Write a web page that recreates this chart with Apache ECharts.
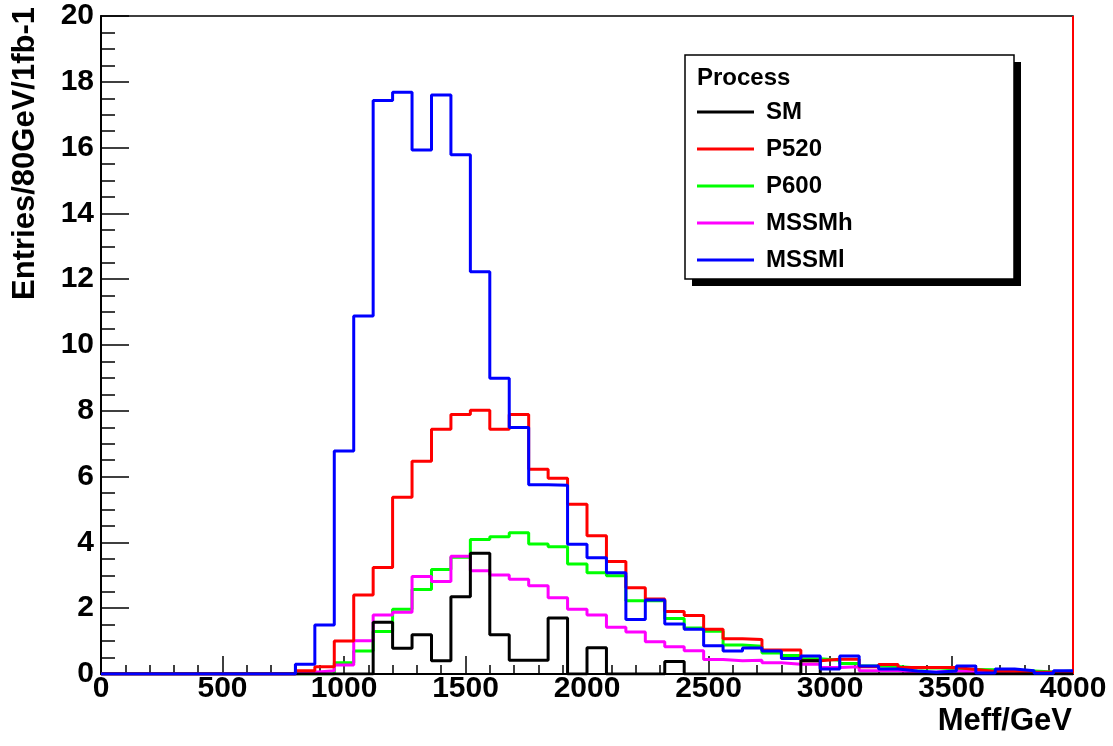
<!DOCTYPE html>
<html>
<head>
<meta charset="utf-8">
<script src="https://cdn.jsdelivr.net/npm/echarts@6/dist/echarts.min.js"></script>
<style>
html,body{margin:0;padding:0;background:#fff;}
#chart{width:1113px;height:746px;}
</style>
</head>
<body>
<div id="chart"></div>
<script>
// Histogram: 50 bins of 80 GeV from 0 to 4000
const BIN_WIDTH = 80;
const X_MIN = 0, X_MAX = 4000;
const xTickValues = [0, 500, 1000, 1500, 2000, 2500, 3000, 3500, 4000];
const yTickValues = [0, 2, 4, 6, 8, 10, 12, 14, 16, 18, 20];

const seriesNames = ["SM", "P520", "P600", "MSSMh", "MSSMl"];

const SM = [0,0,0,0,0,0,0,0,0,0, 0,0,0,0,1.57,0.78,1.19,0.40,2.35,3.67, 1.19,0.42,0.42,1.70,0,0.80,0,0,0,0.38, 0,0,0,0,0,0,0.40,0,0,0, 0,0,0,0,0,0,0,0,0,0];
const P520 = [0,0,0,0,0,0,0,0,0,0, 0.10,0.22,1.00,2.40,3.24,5.37,6.47,7.44,7.89,8.02, 7.44,7.89,6.22,5.95,5.16,4.20,3.42,2.62,2.28,1.90, 1.78,1.36,1.07,1.05,0.73,0.73,0.40,0.45,0.45,0.22, 0.29,0.20,0.20,0.20,0.14,0.08,0.08,0.05,0.05,0.05];
const P600 = [0,0,0,0,0,0,0,0,0,0, 0,0,0.34,0.70,1.29,1.97,2.57,3.18,3.55,4.09, 4.17,4.29,3.95,3.87,3.34,3.08,2.99,2.23,2.23,1.69, 1.40,1.30,0.88,0.84,0.64,0.56,0.46,0.42,0.32,0.24, 0.23,0.18,0.19,0.15,0.14,0.13,0.09,0.09,0.06,0.09];
const MSSMh = [0,0,0,0,0,0,0,0,0,0, 0.05,0.10,0.27,1.01,1.79,1.88,2.96,2.81,3.58,3.14, 3.01,2.88,2.68,2.32,1.97,1.79,1.42,1.28,0.98,0.83, 0.71,0.44,0.40,0.42,0.34,0.30,0.30,0.20,0.22,0.10, 0.10,0.05,0.06,0.09,0.06,0.03,0.09,0.03,0.02,0.02];
const MSSMl = [0,0,0,0,0,0,0,0,0,0, 0.30,1.49,6.78,10.88,17.43,17.68,15.93,17.60,15.78,12.23, 8.99,7.49,5.75,5.74,3.94,3.53,3.08,1.66,2.25,1.52, 1.36,0.86,0.70,0.79,0.70,0.47,0.55,0.15,0.55,0.24, 0.15,0.09,0.05,0.09,0.24,0.03,0.15,0.10,0.02,0.10];

const colors = {SM:"#000000", P520:"#ff0000", P600:"#00ff00", MSSMh:"#ff00ff", MSSMl:"#0000ff"};
const zOrder = {P600:2, MSSMh:3, P520:4, SM:5, MSSMl:6};
const values = {SM, P520, P600, MSSMh, MSSMl};

function toSteps(vals){
  const pts = vals.map((v,i)=>[X_MIN + i*BIN_WIDTH, v]);
  pts.push([X_MIN + vals.length*BIN_WIDTH, vals[vals.length-1]]);
  return pts;
}

const FONT = "'Liberation Sans', Arial, Helvetica, sans-serif";

const series = seriesNames.map(name => {
  const s = {
    name: name,
    type: 'line',
    step: 'end',
    data: toSteps(values[name]),
    showSymbol: false,
    symbol: 'none',
    color: colors[name],
    lineStyle: {color: colors[name], width: 3},
    z: zOrder[name],
    animation: false
  };
  if (name === 'P520') {
    s.markLine = {
      silent: true, symbol: 'none', animation: false,
      label: {show: false},
      lineStyle: {color: '#ff0000', width: 2, type: 'solid'},
      data: [{xAxis: X_MAX}]
    };
  }
  return s;
});

const chart = echarts.init(document.getElementById('chart'), null, {renderer: 'canvas'});
chart.setOption({
  backgroundColor: '#ffffff',
  animation: false,
  grid: {left: 101, right: 40, top: 16, bottom: 72, show: true, borderColor: '#000', borderWidth: 1.5, backgroundColor: 'transparent'},
  title: {
    text: 'Process', left: 692, top: 61, z: 20,
    textStyle: {fontFamily: FONT, fontWeight: 'bold', fontSize: 24, color: '#000'}
  },
  legend: {
    data: seriesNames,
    orient: 'vertical',
    left: 685, top: 55,
    padding: [45, 175, 7, 12],
    itemGap: 13,
    itemWidth: 57,
    itemHeight: 3,
    icon: 'rect',
    z: 20,
    selectedMode: false,
    backgroundColor: 'transparent',
    borderWidth: 0,
    textStyle: {fontFamily: FONT, fontWeight: 'bold', fontSize: 24, color: '#000', lineHeight: 24, padding: [0,0,0,7]}
  },
  xAxis: {
    type: 'value', min: X_MIN, max: X_MAX, interval: 500,
    name: 'Meff/GeV', nameLocation: 'end', nameGap: -1,
    nameTextStyle: {fontFamily: FONT, fontWeight: 'bold', fontSize: 31, color: '#000', align: 'right', verticalAlign: 'top', padding: [32,0,0,0]},
    axisLine: {show: true, onZero: false, lineStyle: {color: '#000', width: 2}},
    axisTick: {show: true, inside: true, length: 18, lineStyle: {color: '#000', width: 1.5}},
    minorTick: {show: true, splitNumber: 5, length: 9, lineStyle: {color: '#000', width: 1.5}},
    axisLabel: {
      fontFamily: FONT, fontWeight: 'bold', fontSize: 30, color: '#000', margin: 0,
      showMinLabel: true, showMaxLabel: true,
      formatter: v => xTickValues.includes(v) ? String(v) : ''
    },
    splitLine: {show: false}
  },
  yAxis: {
    type: 'value', min: 0, max: 20, interval: 2,
    axisLine: {show: true, onZero: false, lineStyle: {color: '#000', width: 2}},
    axisTick: {show: true, inside: true, length: 28, lineStyle: {color: '#000', width: 1.5}},
    minorTick: {show: true, splitNumber: 4, length: 14, lineStyle: {color: '#000', width: 1.5}},
    axisLabel: {
      fontFamily: FONT, fontWeight: 'bold', fontSize: 30, color: '#000', margin: 7,
      showMinLabel: true, showMaxLabel: true,
      formatter: v => yTickValues.includes(v) ? String(v) : ''
    },
    splitLine: {show: false}
  },
  graphic: [
    {
      type: 'rect', z: 10,
      shape: {x: 692, y: 62, width: 329, height: 224},
      style: {fill: '#000000'}
    },
    {
      type: 'rect', z: 11,
      shape: {x: 685, y: 55, width: 329, height: 224},
      style: {fill: '#ffffff', stroke: '#000000', lineWidth: 1.5}
    },
    {
      type: 'text', z: 12,
      x: 25, y: 7,
      rotation: Math.PI / 2,
      style: {
        text: 'Entries/80GeV/1fb-1',
        fontFamily: FONT, fontWeight: 'bold', fontSize: 31, fill: '#000',
        align: 'right', verticalAlign: 'middle'
      }
    }
  ],
  series: series
});
</script>
</body>
</html>
